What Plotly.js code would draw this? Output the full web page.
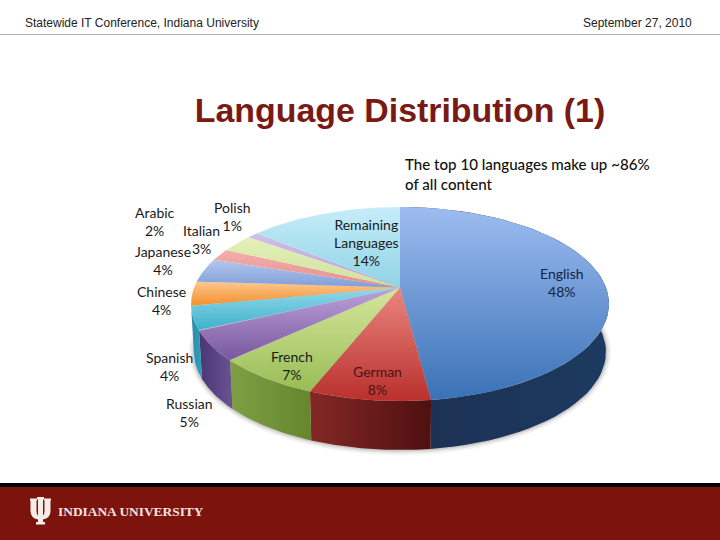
<!DOCTYPE html>
<html><head><meta charset="utf-8">
<script src="https://cdn.plot.ly/plotly-3.0.1.min.js"></script>
<style>html,body{margin:0;padding:0;background:#fff}#c{width:720px;height:540px}</style>
</head><body><div id="c"></div>
<script>
// data (clockwise from 12 o'clock)
const categories = ["English","German","French","Russian","Spanish","Chinese","Japanese","Arabic","Italian","Polish","Remaining<br>Languages"];
const shares = [48,8,7,5,4,4,4,2,3,1,14];

// styles
const topColors = [["#9dbcf0","#3a72b6"],["#ea8680","#b9302c"],["#d6e69c","#98bd55"],["#bda2da","#77579e"],["#92d9ea","#3db0cb"],["#fcc88e","#f48f2e"],["#b4c6ec","#7f9fd9"],["#f3b0ac","#e58f8a"],["#e4f0ba","#cfe29a"],["#cfc0e6","#b8a4d8"],["#c6edf8","#8fd3e6"]];
const wallColors = [["#1c3152","#1c3a60"],["#842826","#4e1010"],["#7f9f45","#66862e"],["#4a3574","#6b5392"],["#2a8ca6","#2fa0bc"]];
const labelPos = [[562,282],[377,380],[292,365],[189,412],[169,366],[161,300],[163,260],[155,221],[201,239],[232,216],[366,242]];

// scene geometry
const cx=400, cy=304, rx=209, ry=97, bcy=352, brx=206, bry=98, tilt=-0.17;
function rim(frac,ox,oy,ax,ay){
  const t=2*Math.PI*frac, u=Math.sin(t), v=-Math.cos(t), d=1+tilt*v;
  return [ox+ax*u*Math.sqrt(1-tilt*tilt)/d, oy+ay*(v+tilt)/d];
}
const apex=[cx, cy+ry*tilt];
const total=shares.reduce((a,b)=>a+b,0);
const traces=[];
function poly(xs,ys,c,type,start,stop){
  traces.push({type:"scatter",mode:"lines",x:xs,y:ys,fill:"toself",line:{width:0,color:c[0]},hoverinfo:"skip",showlegend:false,
    fillcolor:c[0],fillgradient:{type:type,start:start,stop:stop,colorscale:[[0,c[0]],[1,c[1]]]}});
}
// soft shadow below the pie
[[5,"rgba(0,0,0,0.05)"],[3,"rgba(0,0,0,0.07)"],[1.5,"rgba(0,0,0,0.09)"]].forEach(([o,col])=>{
  const xs=[],ys=[];
  for(let i=0;i<=120;i++){const p=rim(0.12+i/120*0.72,cx,bcy,brx+o,bry+o);xs.push(p[0]);ys.push(p[1]);}
  traces.push({type:"scatter",mode:"lines",x:xs,y:ys,fill:"toself",fillcolor:col,line:{width:0},hoverinfo:"skip",showlegend:false});
});
// side walls
let cum=0;
const starts=shares.map(s=>{const a=cum;cum+=s/total;return a;});
wallColors.forEach((c,i)=>{
  const a=starts[i], b=a+shares[i]/total, xs=[],ys=[],bx=[],by=[];
  for(let k=0;k<=60;k++){
    const f=a+(b-a)*k/60, p=rim(f,cx,cy,rx,ry), q=rim(f,cx,bcy,brx,bry);
    xs.push(p[0]);ys.push(p[1]);bx.push(q[0]);by.push(q[1]);
  }
  const all=xs.concat(bx.slice().reverse());
  poly(all.concat(xs[0]),ys.concat(by.slice().reverse(),ys[0]),c,"horizontal",Math.min(...all),Math.max(...all));
});
// top faces
shares.forEach((s,i)=>{
  const a=starts[i], b=a+s/total, xs=[apex[0]],ys=[apex[1]];
  for(let k=0;k<=80;k++){const p=rim(a+(b-a)*k/80,cx,cy,rx,ry);xs.push(p[0]);ys.push(p[1]);}
  xs.push(apex[0]);ys.push(apex[1]);
  poly(xs,ys,topColors[i],"vertical",Math.min(...ys),Math.max(...ys));
});

const annotations=categories.map((n,i)=>({x:labelPos[i][0],y:labelPos[i][1],xref:"x",yref:"y",showarrow:false,
  text:n+"<br>"+shares[i]+"%",font:{family:"Lato",size:14,color:i===1?"#4a1412":(i===0?"#12233f":"#1a1a1a")},align:"center",xanchor:"center",yanchor:"middle"}));
annotations.push(
 {x:403,y:173.5,xref:"x",yref:"y",showarrow:false,xanchor:"left",yanchor:"middle",align:"left",
  text:"The top 10 languages make up ~86%<br>of all content",font:{family:"Lato",size:15.1,color:"#111",weight:500}},
 {x:23,y:23,xref:"x",yref:"y",showarrow:false,xanchor:"left",yanchor:"middle",text:"Statewide IT Conference, Indiana University",font:{family:"Liberation Sans",size:12,color:"#222"}},
 {x:694,y:23,xref:"x",yref:"y",showarrow:false,xanchor:"right",yanchor:"middle",text:"September 27, 2010",font:{family:"Liberation Sans",size:12,color:"#222"}},
 {x:56,y:511,xref:"x",yref:"y",showarrow:false,xanchor:"left",yanchor:"middle",text:"<b>INDIANA UNIVERSITY</b>",font:{family:"Liberation Serif",size:13.4,color:"#f3e4e0"}}
);

const shapes=[
 {type:"line",xref:"x",yref:"y",x0:0,x1:720,y0:34.5,y1:34.5,line:{color:"#b4b4b4",width:1},layer:"below"},
 {type:"rect",xref:"x",yref:"y",x0:0,x1:720,y0:483,y1:487,fillcolor:"#000",line:{width:0},layer:"below"},
 {type:"rect",xref:"x",yref:"y",x0:0,x1:720,y0:487,y1:540,fillcolor:"#7c130c",line:{width:0},layer:"below"},
 // trident emblem
 {type:"path",xref:"x",yref:"y",fillcolor:"#f6ece8",line:{width:0},layer:"above",
  path:"M30 498.5 H37 V500.5 H36.5 V511 Q36.5 514.5 38 515.5 V499.5 H37 V497 H44 V499.5 H43 V515.5 Q44.5 514.5 44.5 511 V500.5 H44 V498.5 H51 V500.5 H50.5 V511 Q50.5 518 43 519.5 V522 H45 V524.5 H36 V522 H38 V519.5 Q30.5 518 30.5 511 V500.5 H30 Z"}
];

Plotly.newPlot("c",traces,{
  width:720,height:540,margin:{l:0,r:0,t:0,b:0},paper_bgcolor:"#fff",plot_bgcolor:"#fff",showlegend:false,
  title:{text:"<b>Language Distribution (1)</b>",x:400/720,xanchor:"center",xref:"paper",y:1-110/540,yanchor:"middle",font:{family:"Liberation Sans",size:33.9,color:"#7a1a14"}},
  xaxis:{range:[0,720],visible:false,fixedrange:true},
  yaxis:{range:[540,0],visible:false,fixedrange:true},
  shapes:shapes,annotations:annotations
},{displayModeBar:false,staticPlot:true});
</script></body></html>
